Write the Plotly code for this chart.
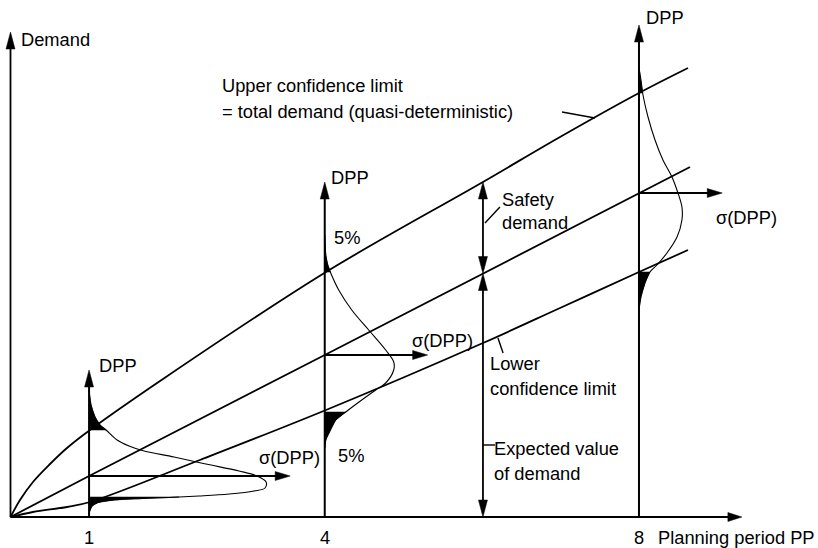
import numpy as np
import plotly.graph_objects as go

# ---------------- data (planning period PP, demand units) ----------------
PERIODS = [1, 4, 8]
PERIOD_LABELS = ["1", "4", "8"]
DPP_AXIS_TOP = [14.7, 33.5, 49.2]          # top of the DPP arrows
MEAN_DEMAND = [4.1, 16.2, 32.4]            # expected demand at each period
SIGMA_REACH = [3.56, 5.31, 9.06]           # end of sigma(DPP) arrows (PP)
TAIL_TOP = [8.7, 24.5, 42.4]               # upper 5% cut-off
TAIL_BOTTOM = [2.0, 10.5, 24.5]            # lower 5% cut-off

UPPER_PP = [0, 0.121, 0.286, 0.503, 0.719, 1.012, 1.941, 4.016, 6.014, 6.995, 8.0, 8.624]
UPPER_D = [0, 1.7, 3.5, 5.3, 6.9, 8.7, 13.8, 24.5, 33.5, 38.0, 42.4, 44.9]
EXPECT_PP = [0, 1, 4, 8, 8.65]
EXPECT_D = [0, 4.1, 16.2, 32.4, 35.0]
LOWER_PP = [0, 0.286, 0.719, 1.012, 2.41, 4.016, 6.014, 6.995, 8.0, 8.624]
LOWER_D = [0, 0.5, 1.0, 1.5, 5.7, 10.7, 17.4, 20.9, 24.5, 26.7]

# density curves: demand level and horizontal extent (PP units)
DENS1_D = [12.7, 11.2, 10.0, 9.2, 8.7, 7.7, 7.1, 6.6, 6.0, 5.3, 4.6, 4.1, 3.5, 2.9, 2.6, 2.3, 2.1, 1.95, 1.85, 1.7, 1.45, 1.1, 0.4]
DENS1_W = [0, 0.025, 0.076, 0.140, 0.216, 0.356, 0.509, 0.700, 1.082, 1.489, 1.909, 2.138, 2.253, 2.240, 2.100, 1.782, 1.400, 1.018, 0.675, 0.318, 0.115, 0.038, 0]
DENS4_D = [28.2, 26.2, 25.2, 24.4, 22.7, 20.7, 18.7, 16.7, 15.5, 14.7, 13.4, 12.7, 11.7, 10.5, 9.7, 8.4, 7.7, 6.9]
DENS4_W = [0, 0.013, 0.038, 0.076, 0.178, 0.344, 0.56, 0.776, 0.878, 0.878, 0.776, 0.649, 0.471, 0.267, 0.14, 0.051, 0.013, 0]
DENS8_D = [44.9, 43.7, 42.2, 40.0, 37.7, 35.7, 34.0, 32.4, 31.0, 29.7, 28.0, 26.4, 25.2, 24.5, 23.4, 22.0, 20.7]
DENS8_W = [0, 0.025, 0.051, 0.115, 0.204, 0.305, 0.42, 0.496, 0.547, 0.547, 0.484, 0.356, 0.229, 0.14, 0.076, 0.025, 0]
DENS_D = [DENS1_D, DENS4_D, DENS8_D]
DENS_W = [DENS1_W, DENS4_W, DENS8_W]

DEMAND_AXIS_TOP = 48.5
PP_AXIS_END = 9.31

MARKER_PP = 6.014                 # safety demand / expected value arrows
SAFETY_RANGE = [24.35, 33.5]
EXPECTED_RANGE = [0, 24.35]

LEADERS_PP = [[7.02, 7.44], [6.04, 6.23], [6.205, 6.27], [6.014, 6.167]]
LEADERS_D = [[40.5, 39.9], [29.4, 31.0], [17.9, 16.4], [7.2, 7.2]]

LABELS = [
    ("Demand", 0.146, 47.8),
    ("Upper confidence limit", 2.705, 43.2),
    ("= total demand (quasi-deterministic)", 2.705, 40.6),
    ("DPP", 8.102, 50.0),
    ("DPP", 4.092, 34.0),
    ("DPP", 1.139, 15.2),
    ("5%", 4.13, 28.0),
    ("5%", 4.18, 6.2),
    ("σ(DPP)", 5.12, 17.7),
    ("σ(DPP)", 3.18, 6.0),
    ("σ(DPP)", 8.99, 30.0),
    ("Safety", 6.27, 31.8),
    ("demand", 6.27, 29.5),
    ("Lower", 6.12, 15.4),
    ("confidence limit", 6.12, 12.9),
    ("Expected value", 6.17, 6.9),
    ("of demand", 6.17, 4.4),
    ("Planning period PP", 8.25, -2.0),
]
TICK_D = -2.0

# ---------------- geometry of the canvas ----------------
W, H = 818, 548
X_PX = 78.56   # px per period
Y_PX = 10.0    # px per demand unit
X0, Y0 = 10.5, 517.0
xr = [-X0 / X_PX, (W - X0) / X_PX]
yr = [-(H - Y0) / Y_PX, Y0 / Y_PX]

FONT = dict(family="Liberation Sans, Arial, sans-serif", size=18.3, color="black")
fig = go.Figure()


def line(xs, ys, width=1.8, shape="linear"):
    fig.add_trace(go.Scatter(x=xs, y=ys, mode="lines", hoverinfo="skip",
                             line=dict(color="black", width=width, shape=shape, smoothing=1.0)))


def polygon(xs, ys):
    fig.add_trace(go.Scatter(x=xs, y=ys, mode="lines", fill="toself", fillcolor="black",
                             hoverinfo="skip", line=dict(color="black", width=0.5)))


def head(x, y, d, L=16, Hw=4.5):
    if d == "up":
        polygon([x, x - Hw / X_PX, x + Hw / X_PX, x], [y, y - L / Y_PX, y - L / Y_PX, y])
    elif d == "down":
        polygon([x, x - Hw / X_PX, x + Hw / X_PX, x], [y, y + L / Y_PX, y + L / Y_PX, y])
    else:
        polygon([x, x - L / X_PX, x - L / X_PX, x], [y, y - Hw / Y_PX, y + Hw / Y_PX, y])


# axes
line([0, 0], [0, DEMAND_AXIS_TOP - 1.0])
head(0, DEMAND_AXIS_TOP, "up", L=17)
line([0, PP_AXIS_END - 0.1], [0, 0])
head(PP_AXIS_END, 0, "right", L=14)

# confidence limits and expected value
line(UPPER_PP, UPPER_D, 1.8, "spline")
line(EXPECT_PP, EXPECT_D, 1.8)
line(LOWER_PP, LOWER_D, 1.8, "spline")

# DPP axes, distributions, tails, sigma arrows
for p, top, mu, sr, tt, tb, dd, ww in zip(PERIODS, DPP_AXIS_TOP, MEAN_DEMAND, SIGMA_REACH,
                                            TAIL_TOP, TAIL_BOTTOM, DENS_D, DENS_W):
    dd = np.array(dd)
    ww = np.array(ww)
    line([p, p], [0, top - 1.0], 2.0)
    head(p, top, "up", L=17)
    line([p, sr - 0.1], [mu, mu], 1.8)
    head(sr, mu, "right", L=15)
    # upper tail
    wt = np.interp(tt, dd[::-1], ww[::-1])
    m = dd >= tt
    polygon(list(p + ww[m]) + [p + wt, p], list(dd[m]) + [tt, tt])
    # lower tail
    wb = np.interp(tb, dd[::-1], ww[::-1])
    m = dd <= tb
    polygon([p, p + wb] + list(p + ww[m]), [tb, tb] + list(dd[m]))
    # density curve
    line(list(p + ww), list(dd), 1.1, "spline")

# safety demand and expected value double arrows
for lo, hi in (SAFETY_RANGE, EXPECTED_RANGE):
    line([MARKER_PP, MARKER_PP], [lo + 1.2, hi - 1.2], 1.8)
    head(MARKER_PP, hi, "up", L=17)
    head(MARKER_PP, lo, "down", L=17)

# leader lines
for lx, ly in zip(LEADERS_PP, LEADERS_D):
    line(lx, ly, 1.4)

# texts
for txt, x, y in LABELS:
    fig.add_annotation(x=x, y=y, text=txt, showarrow=False, xanchor="left", yanchor="middle",
                       font=FONT, xshift=-3)
for p, lab in zip(PERIODS, PERIOD_LABELS):
    fig.add_annotation(x=p, y=TICK_D, text=lab, showarrow=False, xanchor="center",
                       yanchor="middle", font=FONT)

fig.update_layout(
    width=W, height=H, margin=dict(l=0, r=0, t=0, b=0),
    paper_bgcolor="white", plot_bgcolor="white", showlegend=False,
    xaxis=dict(range=xr, visible=False, fixedrange=True),
    yaxis=dict(range=yr, visible=False, fixedrange=True),
)
fig.write_html(
    "out.html",
    config={"displayModeBar": False, "staticPlot": True},
    post_script="document.body.style.margin='0';document.body.style.overflow='hidden';",
)
